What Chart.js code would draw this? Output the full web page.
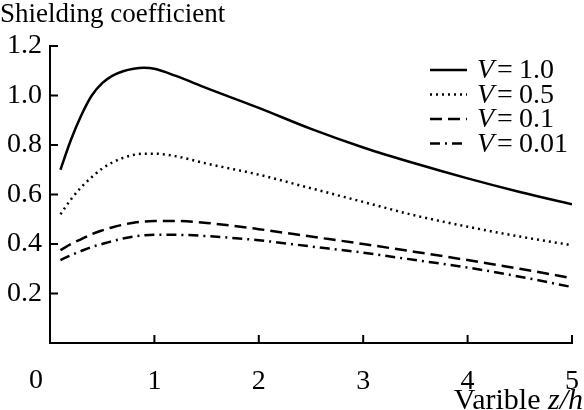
<!DOCTYPE html>
<html>
<head>
<meta charset="utf-8">
<script src="https://cdn.jsdelivr.net/npm/chart.js@4"></script>
<style>
  html, body { margin: 0; padding: 0; background: #fff; }
  #wrap { width: 584px; height: 410px; }
</style>
</head>
<body>
<div id="wrap"><canvas id="shieldChart" width="584" height="410"></canvas></div>
<script>
const zh = [0.1, 0.2, 0.3, 0.4, 0.5, 0.6, 0.7, 0.8, 0.9, 1.0, 1.2, 1.5, 2.0, 2.5, 3.0, 3.5, 4.0, 4.5, 5.0];
const v1 = [0.70, 0.82, 0.92, 1.0, 1.05, 1.08, 1.098, 1.108, 1.112, 1.108, 1.08, 1.03, 0.95, 0.865, 0.79, 0.725, 0.665, 0.61, 0.56];
const v05 = [0.52, 0.58, 0.63, 0.67, 0.705, 0.73, 0.748, 0.76, 0.765, 0.765, 0.755, 0.725, 0.68, 0.625, 0.57, 0.515, 0.47, 0.43, 0.395];
const v01 = [0.375, 0.40, 0.42, 0.44, 0.455, 0.468, 0.478, 0.486, 0.491, 0.493, 0.493, 0.485, 0.46, 0.43, 0.40, 0.368, 0.335, 0.30, 0.262];
const v001 = [0.335, 0.355, 0.372, 0.388, 0.40, 0.412, 0.422, 0.43, 0.435, 0.437, 0.437, 0.432, 0.415, 0.39, 0.365, 0.335, 0.305, 0.268, 0.226];
const legendValues = ['1.0', '0.5', '0.1', '0.01'];
const xTicks = [0, 1, 2, 3, 4, 5];
const yTicks = [0.2, 0.4, 0.6, 0.8, 1.0, 1.2];

const serif = '"Liberation Serif", "DejaVu Serif", serif';
const pts = (ys) => zh.map((x, i) => ({ x, y: ys[i] }));

function series(ys, dash, width) {
  return {
    data: pts(ys),
    borderColor: '#000',
    borderWidth: width,
    borderDash: dash,
    pointRadius: 0,
    cubicInterpolationMode: 'monotone',
    fill: false,
  };
}

// inward ticks, titles, origin "0" and the legend
const decor = {
  id: 'decor',
  afterDraw(chart) {
    const c = chart.ctx;
    const xs = chart.scales.x, ys = chart.scales.y;
    const y0 = ys.getPixelForValue(0), x0 = xs.getPixelForValue(0);
    c.save();
    c.strokeStyle = '#000';
    c.lineWidth = 2;
    c.setLineDash([]);
    c.beginPath();
    xTicks.slice(1).forEach(t => {
      const px = xs.getPixelForValue(t);
      c.moveTo(px, y0); c.lineTo(px, y0 - 8);
    });
    yTicks.forEach(t => {
      const py = ys.getPixelForValue(t);
      c.moveTo(x0, py); c.lineTo(x0 + 8, py);
    });
    c.stroke();

    c.fillStyle = '#000';
    c.font = '28px ' + serif;
    c.textBaseline = 'middle';
    c.textAlign = 'center';
    c.fillText('0', x0 - 14, 381);

    c.textAlign = 'left';
    c.textBaseline = 'alphabetic';
    c.font = '27px ' + serif;
    c.fillText('Shielding coefficient', 0, 22);

    // x title, right aligned, with italic z/h
    const plain = 'Varible ', ital = 'z/h';
    c.font = 'italic 30px ' + serif;
    const wi = c.measureText(ital).width;
    c.font = '30px ' + serif;
    const wp = c.measureText(plain).width;
    const right = 583, base = 409;
    c.fillText(plain, right - wi - wp, base);
    c.font = 'italic 30px ' + serif;
    c.fillText(ital, right - wi, base);

    // legend
    chart.data.datasets.forEach((ds, i) => {
      const ly = 70 + i * 24.5;
      c.beginPath();
      c.lineWidth = ds.borderWidth;
      c.setLineDash(ds.borderDash);
      c.moveTo(430, ly); c.lineTo(467, ly);
      c.stroke();
      c.setLineDash([]);
      c.textBaseline = 'middle';
      c.font = 'italic 28px ' + serif;
      c.fillText('V', 477, ly + 1);
      let x = 477 + c.measureText('V').width + 3;
      c.font = '28px ' + serif;
      c.fillText('=', x, ly + 1);
      x += c.measureText('=').width + 6;
      c.fillText(legendValues[i], x, ly + 1);
    });
    c.restore();
  },
};

new Chart(document.getElementById('shieldChart'), {
  type: 'line',
  data: {
    datasets: [
      series(v1, [], 2.5),
      series(v05, [2, 4], 2.5),
      series(v01, [12, 6], 2.5),
      series(v001, [10, 5, 2, 5], 2.5),
    ],
  },
  options: {
    responsive: false,
    animation: false,
    events: [],
    layout: { padding: { top: 46, right: 12, left: 0, bottom: 0 } },
    plugins: { legend: { display: false }, tooltip: { enabled: false } },
    scales: {
      x: {
        type: 'linear',
        min: 0,
        max: 5,
        afterFit(s) { s.height = 67; s.paddingLeft = 0; s.paddingRight = 0; },
        afterBuildTicks(s) { s.ticks = xTicks.map(v => ({ value: v })); },
        grid: { display: false },
        border: { display: true, color: '#000', width: 2 },
        ticks: {
          color: '#000',
          font: { family: serif, size: 28 },
          padding: 14,
          maxRotation: 0,
          callback: v => (v === 0 ? '' : String(v)),
        },
      },
      y: {
        min: 0,
        max: 1.2,
        afterFit(s) { s.width = 50; s.paddingTop = 0; s.paddingBottom = 0; },
        afterBuildTicks(s) { s.ticks = yTicks.map(v => ({ value: v })); },
        grid: { display: false, drawTicks: false },
        border: { display: true, color: '#000', width: 2 },
        ticks: {
          color: '#000',
          font: { family: serif, size: 28 },
          padding: 8,
          callback: v => v.toFixed(1),
        },
      },
    },
  },
  plugins: [decor],
});
</script>
</body>
</html>
